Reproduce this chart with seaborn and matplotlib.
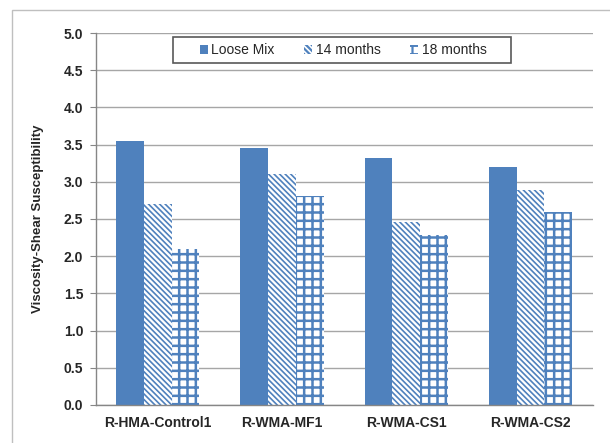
import matplotlib
matplotlib.use("Agg")
import matplotlib.pyplot as plt
import matplotlib.ticker as ticker
from matplotlib.patches import Rectangle
import pandas as pd
import seaborn as sns

# Mixes and aging levels
mixes = ['R-HMA-Control1', 'R-WMA-MF1', 'R-WMA-CS1', 'R-WMA-CS2']
aging = ['Loose Mix', '14 months', '18 months']

loose_mix = [3.55, 3.45, 3.32, 3.20]
months_14 = [2.70, 3.10, 2.46, 2.89]
months_18 = [2.10, 2.81, 2.29, 2.60]

blue = '#4F81BD'

if __name__ == "__main__":
    df = pd.DataFrame({
        'Mix': mixes * 3,
        'Aging': [a for a in aging for _ in mixes],
        'VSS': loose_mix + months_14 + months_18,
    })

    sns.set_style('white')
    plt.rcParams['font.family'] = ['Liberation Sans', 'DejaVu Sans']
    plt.rcParams['hatch.color'] = blue
    plt.rcParams['hatch.linewidth'] = 1.6

    fig = plt.figure(figsize=(6.1, 4.43), dpi=100)
    ax = fig.add_axes([0.157, 0.0858, 0.8146, 0.8397])

    sns.barplot(
        data=df, x='Mix', y='VSS', hue='Aging', order=mixes, hue_order=aging,
        palette={'Loose Mix': blue, '14 months': 'white', '18 months': 'white'},
        width=0.67, legend=False, ax=ax, saturation=1,
    )

    # hatches for aged bars
    hatches = [None, '\\' * 6, '++']
    hatch_lw = [1.0, 1.2, 1.8]
    for cont, h, lw in zip(ax.containers, hatches, hatch_lw):
        for p in cont:
            p.set_edgecolor(blue)
            p.set_linewidth(0)
            if h:
                p.set_hatch(h)
                if hasattr(p, 'set_hatch_linewidth'):
                    p.set_hatch_linewidth(lw)

    ax.set_ylim(0, 5)
    ax.set_xlim(-0.5, 3.5)
    ax.yaxis.set_major_locator(ticker.MultipleLocator(0.5))
    ax.yaxis.set_major_formatter(ticker.FormatStrFormatter('%.1f'))
    ax.grid(axis='y', color='#A6A6A6', linewidth=1)
    ax.set_axisbelow(True)

    ax.set_xlabel('')
    ax.set_ylabel('Viscosity-Shear Susceptibility', fontsize=9.5, fontweight='bold', labelpad=14)
    for lab in ax.get_xticklabels():
        lab.set_fontweight('bold')
        lab.set_fontsize(10)
    for lab in ax.get_yticklabels():
        lab.set_fontweight('bold')
        lab.set_fontsize(10)

    ax.tick_params(axis='x', which='major', length=0, pad=8)
    ax.xaxis.set_minor_locator(ticker.FixedLocator([-0.5, 0.5, 1.5, 2.5, 3.5]))
    ax.tick_params(axis='x', which='minor', length=4, color='#868686', direction='out')
    ax.tick_params(axis='y', length=4, color='#868686', direction='out', left=True, pad=5)

    for s in ['top', 'right']:
        ax.spines[s].set_visible(False)
    for s in ['left', 'bottom']:
        ax.spines[s].set_color('#868686')
        ax.spines[s].set_linewidth(1)

    ax.legend(ax.containers, aging, loc='center', bbox_to_anchor=(343 / 610, 1 - 50 / 443),
              bbox_transform=fig.transFigure, ncol=3, frameon=False, fontsize=10,
              handlelength=0.6, handleheight=0.6, handletextpad=0.25, columnspacing=2.1)

    # legend box and outer chart border
    fig.patches.append(Rectangle((173 / 610, 1 - 63 / 443), 338 / 610, 26 / 443,
                                 transform=fig.transFigure, fill=False,
                                 edgecolor='#595959', linewidth=1.2))
    fig.patches.append(Rectangle((12 / 610, -0.1), 1.2, 1.1 - 10 / 443,
                                 transform=fig.transFigure, fill=False,
                                 edgecolor='#BFBFBF', linewidth=1))

    plt.savefig('out.png', dpi=100)
    plt.close()
